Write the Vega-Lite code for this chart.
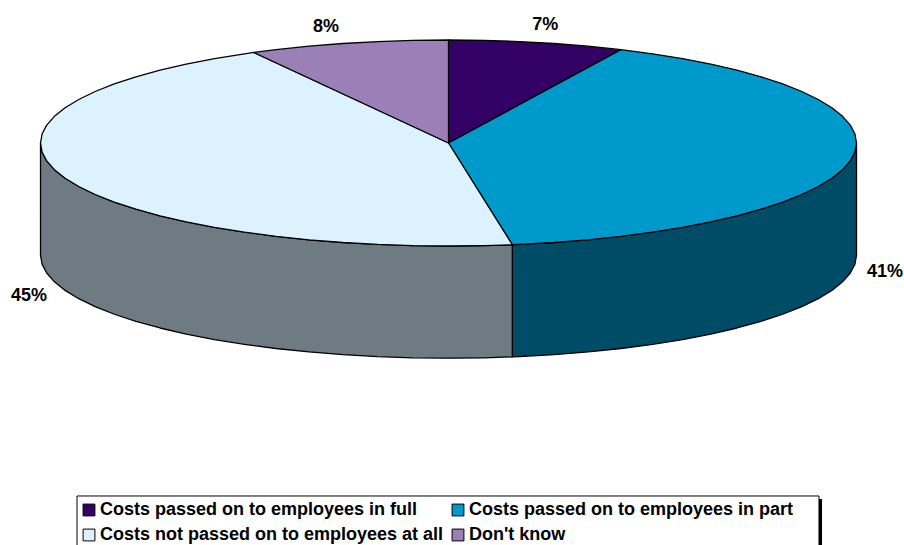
{
"$schema":"https://vega.github.io/schema/vega-lite/v6.json",
"width":904,"height":545,"padding":0,"autosize":"none","background":"white",
"view":{"stroke":null},
"datasets":{
"top":[
{"s":"full","o":-1,"u":0,"v":0},{"s":"full","o":0,"u":0,"v":1},{"s":"full","o":5,"u":0.0872,"v":0.9962},{"s":"full","o":10,"u":0.1736,"v":0.9848},{"s":"full","o":15,"u":0.2588,"v":0.9659},{"s":"full","o":20,"u":0.342,"v":0.9397},{"s":"full","o":25,"u":0.4226,"v":0.9063},{"s":"full","o":999,"u":0,"v":0},
{"s":"part","o":-1,"u":0,"v":0},{"s":"part","o":25,"u":0.4226,"v":0.9063},{"s":"part","o":30,"u":0.5,"v":0.866},{"s":"part","o":35,"u":0.5736,"v":0.8192},{"s":"part","o":40,"u":0.6428,"v":0.766},{"s":"part","o":45,"u":0.7071,"v":0.7071},{"s":"part","o":50,"u":0.766,"v":0.6428},{"s":"part","o":55,"u":0.8192,"v":0.5736},{"s":"part","o":60,"u":0.866,"v":0.5},{"s":"part","o":65,"u":0.9063,"v":0.4226},{"s":"part","o":70,"u":0.9397,"v":0.342},{"s":"part","o":75,"u":0.9659,"v":0.2588},{"s":"part","o":80,"u":0.9848,"v":0.1736},{"s":"part","o":85,"u":0.9962,"v":0.0872},{"s":"part","o":90,"u":1,"v":0},{"s":"part","o":95,"u":0.9962,"v":-0.0872},{"s":"part","o":100,"u":0.9848,"v":-0.1736},{"s":"part","o":105,"u":0.9659,"v":-0.2588},{"s":"part","o":110,"u":0.9397,"v":-0.342},{"s":"part","o":115,"u":0.9063,"v":-0.4226},{"s":"part","o":120,"u":0.866,"v":-0.5},{"s":"part","o":125,"u":0.8192,"v":-0.5736},{"s":"part","o":130,"u":0.766,"v":-0.6428},{"s":"part","o":135,"u":0.7071,"v":-0.7071},{"s":"part","o":140,"u":0.6428,"v":-0.766},{"s":"part","o":145,"u":0.5736,"v":-0.8192},{"s":"part","o":150,"u":0.5,"v":-0.866},{"s":"part","o":155,"u":0.4226,"v":-0.9063},{"s":"part","o":160,"u":0.342,"v":-0.9397},{"s":"part","o":165,"u":0.2588,"v":-0.9659},{"s":"part","o":170,"u":0.1736,"v":-0.9848},{"s":"part","o":171,"u":0.1564,"v":-0.9877},{"s":"part","o":999,"u":0,"v":0},
{"s":"none","o":-1,"u":0,"v":0},{"s":"none","o":171,"u":0.1564,"v":-0.9877},{"s":"none","o":175,"u":0.0872,"v":-0.9962},{"s":"none","o":180,"u":0,"v":-1},{"s":"none","o":185,"u":-0.0872,"v":-0.9962},{"s":"none","o":190,"u":-0.1736,"v":-0.9848},{"s":"none","o":195,"u":-0.2588,"v":-0.9659},{"s":"none","o":200,"u":-0.342,"v":-0.9397},{"s":"none","o":205,"u":-0.4226,"v":-0.9063},{"s":"none","o":210,"u":-0.5,"v":-0.866},{"s":"none","o":215,"u":-0.5736,"v":-0.8192},{"s":"none","o":220,"u":-0.6428,"v":-0.766},{"s":"none","o":225,"u":-0.7071,"v":-0.7071},{"s":"none","o":230,"u":-0.766,"v":-0.6428},{"s":"none","o":235,"u":-0.8192,"v":-0.5736},{"s":"none","o":240,"u":-0.866,"v":-0.5},{"s":"none","o":245,"u":-0.9063,"v":-0.4226},{"s":"none","o":250,"u":-0.9397,"v":-0.342},{"s":"none","o":255,"u":-0.9659,"v":-0.2588},{"s":"none","o":260,"u":-0.9848,"v":-0.1736},{"s":"none","o":265,"u":-0.9962,"v":-0.0872},{"s":"none","o":270,"u":-1,"v":0},{"s":"none","o":275,"u":-0.9962,"v":0.0872},{"s":"none","o":280,"u":-0.9848,"v":0.1736},{"s":"none","o":285,"u":-0.9659,"v":0.2588},{"s":"none","o":290,"u":-0.9397,"v":0.342},{"s":"none","o":295,"u":-0.9063,"v":0.4226},{"s":"none","o":300,"u":-0.866,"v":0.5},{"s":"none","o":305,"u":-0.8192,"v":0.5736},{"s":"none","o":310,"u":-0.766,"v":0.6428},{"s":"none","o":315,"u":-0.7071,"v":0.7071},{"s":"none","o":320,"u":-0.6428,"v":0.766},{"s":"none","o":325,"u":-0.5736,"v":0.8192},{"s":"none","o":330,"u":-0.5,"v":0.866},{"s":"none","o":331.5,"u":-0.4772,"v":0.8788},{"s":"none","o":999,"u":0,"v":0},
{"s":"unknown","o":-1,"u":0,"v":0},{"s":"unknown","o":331.5,"u":-0.4772,"v":0.8788},{"s":"unknown","o":335,"u":-0.4226,"v":0.9063},{"s":"unknown","o":340,"u":-0.342,"v":0.9397},{"s":"unknown","o":345,"u":-0.2588,"v":0.9659},{"s":"unknown","o":350,"u":-0.1736,"v":0.9848},{"s":"unknown","o":355,"u":-0.0872,"v":0.9962},{"s":"unknown","o":360,"u":0,"v":1},{"s":"unknown","o":999,"u":0,"v":0}
],
"side":[
{"s":"part","o":90,"u":1,"v":0},{"s":"part","o":95,"u":0.9962,"v":-0.0872},{"s":"part","o":100,"u":0.9848,"v":-0.1736},{"s":"part","o":105,"u":0.9659,"v":-0.2588},{"s":"part","o":110,"u":0.9397,"v":-0.342},{"s":"part","o":115,"u":0.9063,"v":-0.4226},{"s":"part","o":120,"u":0.866,"v":-0.5},{"s":"part","o":125,"u":0.8192,"v":-0.5736},{"s":"part","o":130,"u":0.766,"v":-0.6428},{"s":"part","o":135,"u":0.7071,"v":-0.7071},{"s":"part","o":140,"u":0.6428,"v":-0.766},{"s":"part","o":145,"u":0.5736,"v":-0.8192},{"s":"part","o":150,"u":0.5,"v":-0.866},{"s":"part","o":155,"u":0.4226,"v":-0.9063},{"s":"part","o":160,"u":0.342,"v":-0.9397},{"s":"part","o":165,"u":0.2588,"v":-0.9659},{"s":"part","o":170,"u":0.1736,"v":-0.9848},{"s":"part","o":171,"u":0.1564,"v":-0.9877},
{"s":"part","o":829,"u":0.1564,"v":-2.0767},{"s":"part","o":830,"u":0.1736,"v":-2.0738},{"s":"part","o":835,"u":0.2588,"v":-2.0549},{"s":"part","o":840,"u":0.342,"v":-2.0287},{"s":"part","o":845,"u":0.4226,"v":-1.9953},{"s":"part","o":850,"u":0.5,"v":-1.955},{"s":"part","o":855,"u":0.5736,"v":-1.9082},{"s":"part","o":860,"u":0.6428,"v":-1.855},{"s":"part","o":865,"u":0.7071,"v":-1.7961},{"s":"part","o":870,"u":0.766,"v":-1.7318},{"s":"part","o":875,"u":0.8192,"v":-1.6626},{"s":"part","o":880,"u":0.866,"v":-1.589},{"s":"part","o":885,"u":0.9063,"v":-1.5116},{"s":"part","o":890,"u":0.9397,"v":-1.431},{"s":"part","o":895,"u":0.9659,"v":-1.3478},{"s":"part","o":900,"u":0.9848,"v":-1.2626},{"s":"part","o":905,"u":0.9962,"v":-1.1762},{"s":"part","o":910,"u":1,"v":-1.089},{"s":"part","o":999,"u":1,"v":0},
{"s":"none","o":171,"u":0.1564,"v":-0.9877},{"s":"none","o":175,"u":0.0872,"v":-0.9962},{"s":"none","o":180,"u":0,"v":-1},{"s":"none","o":185,"u":-0.0872,"v":-0.9962},{"s":"none","o":190,"u":-0.1736,"v":-0.9848},{"s":"none","o":195,"u":-0.2588,"v":-0.9659},{"s":"none","o":200,"u":-0.342,"v":-0.9397},{"s":"none","o":205,"u":-0.4226,"v":-0.9063},{"s":"none","o":210,"u":-0.5,"v":-0.866},{"s":"none","o":215,"u":-0.5736,"v":-0.8192},{"s":"none","o":220,"u":-0.6428,"v":-0.766},{"s":"none","o":225,"u":-0.7071,"v":-0.7071},{"s":"none","o":230,"u":-0.766,"v":-0.6428},{"s":"none","o":235,"u":-0.8192,"v":-0.5736},{"s":"none","o":240,"u":-0.866,"v":-0.5},{"s":"none","o":245,"u":-0.9063,"v":-0.4226},{"s":"none","o":250,"u":-0.9397,"v":-0.342},{"s":"none","o":255,"u":-0.9659,"v":-0.2588},{"s":"none","o":260,"u":-0.9848,"v":-0.1736},{"s":"none","o":265,"u":-0.9962,"v":-0.0872},{"s":"none","o":270,"u":-1,"v":0},
{"s":"none","o":730,"u":-1,"v":-1.089},{"s":"none","o":735,"u":-0.9962,"v":-1.1762},{"s":"none","o":740,"u":-0.9848,"v":-1.2626},{"s":"none","o":745,"u":-0.9659,"v":-1.3478},{"s":"none","o":750,"u":-0.9397,"v":-1.431},{"s":"none","o":755,"u":-0.9063,"v":-1.5116},{"s":"none","o":760,"u":-0.866,"v":-1.589},{"s":"none","o":765,"u":-0.8192,"v":-1.6626},{"s":"none","o":770,"u":-0.766,"v":-1.7318},{"s":"none","o":775,"u":-0.7071,"v":-1.7961},{"s":"none","o":780,"u":-0.6428,"v":-1.855},{"s":"none","o":785,"u":-0.5736,"v":-1.9082},{"s":"none","o":790,"u":-0.5,"v":-1.955},{"s":"none","o":795,"u":-0.4226,"v":-1.9953},{"s":"none","o":800,"u":-0.342,"v":-2.0287},{"s":"none","o":805,"u":-0.2588,"v":-2.0549},{"s":"none","o":810,"u":-0.1736,"v":-2.0738},{"s":"none","o":815,"u":-0.0872,"v":-2.0852},{"s":"none","o":820,"u":0,"v":-2.089},{"s":"none","o":825,"u":0.0872,"v":-2.0852},{"s":"none","o":829,"u":0.1564,"v":-2.0767},{"s":"none","o":999,"u":0.1564,"v":-0.9877}
],
"labels":[
{"pct":7,"text":"7%","u":0.237,"v":1.146},
{"pct":41,"text":"41%","u":1.07,"v":-1.252},
{"pct":45,"text":"45%","u":-1.028,"v":-1.485},
{"pct":8,"text":"8%","u":-0.3,"v":1.126}
],
"box":[{"u":-0.9105,"u2":0.908,"v":-3.427,"v2":-3.96}],
"shadow":[{"u":-0.903,"u2":0.9155,"v":-3.456,"v2":-3.96}]
},
"encoding":{
"x":{"field":"u","type":"quantitative","axis":null,"scale":{"domain":[-1.0993,1.1164],"nice":false,"zero":false}},
"y":{"field":"v","type":"quantitative","axis":null,"scale":{"domain":[-3.9029,1.3883],"nice":false,"zero":false}}
},
"layer":[
{"data":{"name":"side"},"transform":[{"filter":"datum.s==='part'"}],
"mark":{"type":"line","fill":"#004C66","stroke":"#000","strokeWidth":1.3,"strokeJoin":"round"},
"encoding":{"order":{"field":"o","type":"quantitative"}}},
{"data":{"name":"side"},"transform":[{"filter":"datum.s==='none'"}],
"mark":{"type":"line","fill":"#6F7B82","stroke":"#000","strokeWidth":1.3,"strokeJoin":"round"},
"encoding":{"order":{"field":"o","type":"quantitative"}}},
{"data":{"name":"top"},
"mark":{"type":"line","stroke":"#000","strokeWidth":1.3,"strokeJoin":"round"},
"encoding":{
"order":{"field":"o","type":"quantitative"},
"fill":{"field":"s","type":"nominal",
"scale":{"domain":["full","part","none","unknown"],"range":["#330066","#0099CC","#DDF2FF","#9B80B8"]},
"legend":{"title":null,"orient":"none","direction":"horizontal","legendX":80,"legendY":501,"columns":2,"padding":0,"symbolType":"square","symbolSize":140,"symbolStrokeColor":"#000","symbolStrokeWidth":1,"symbolOpacity":1,"columnPadding":5,"rowPadding":7,"labelFont":"Liberation Sans","labelFontWeight":"bold","labelFontSize":18,"labelColor":"#000","labelLimit":400,"labelOffset":2,"gridAlign":"each",
"labelExpr":"{full:'Costs passed on to employees in full',part:'Costs passed on to employees in part',none:'Costs not passed on to employees at all',unknown:\"Don't know\"}[datum.label]"}}
}},
{"data":{"name":"labels"},
"mark":{"type":"text","font":"Liberation Sans","fontWeight":"bold","fontSize":18,"color":"#000","align":"center","baseline":"middle"},
"encoding":{"text":{"field":"text","type":"nominal"}}},
{"data":{"name":"shadow"},"mark":{"type":"rect","fill":"#000"},
"encoding":{"x2":{"field":"u2"},"y2":{"field":"v2"}}},
{"data":{"name":"box"},"mark":{"type":"rect","fill":"#fff","stroke":"#000","strokeWidth":1},
"encoding":{"x2":{"field":"u2"},"y2":{"field":"v2"}}}
]
}
